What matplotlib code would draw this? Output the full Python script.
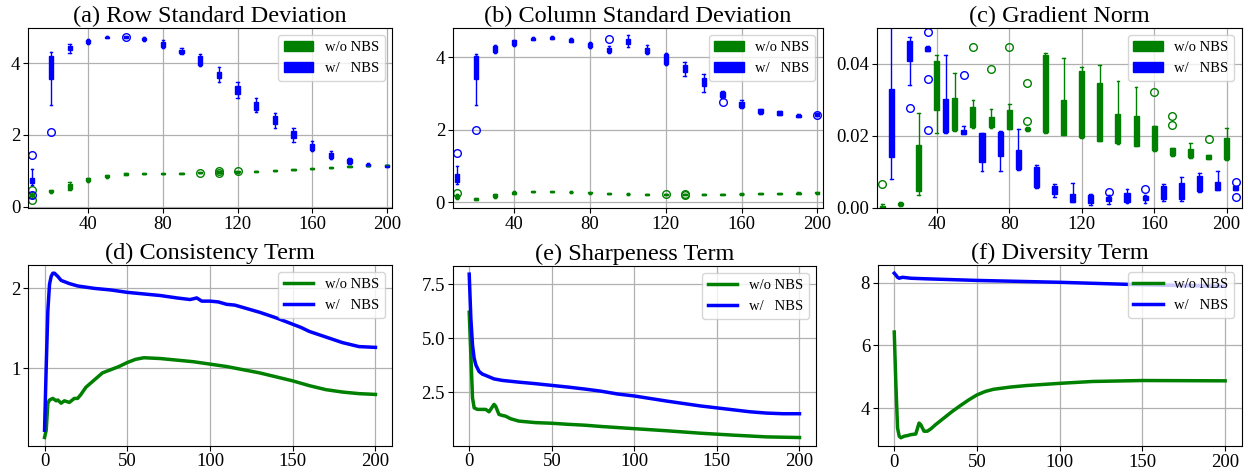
import matplotlib
matplotlib.use('Agg')
import matplotlib.pyplot as plt
from matplotlib.patches import Patch
from matplotlib.lines import Line2D

plt.rcParams['font.family'] = ['Liberation Serif', 'DejaVu Serif']

G, B = 'green', 'blue'
LABELS = ['w/o NBS', 'w/   NBS']

# ── box stats ────────────────────────────────────────────────────────────────
steps = [10, 20, 30, 40, 50, 60, 70, 80, 90, 100,
         110, 120, 130, 140, 150, 160, 170, 180, 190, 200]

# (a) row std, w/o NBS
a_g_q1  = [0.30, 0.40, 0.50, 0.71, 0.82, 0.89, 0.91, 0.91, 0.92, 0.94, 0.95, 0.96, 0.97, 0.99, 1.02, 1.05, 1.08, 1.11, 1.13, 1.14]
a_g_med = [0.32, 0.43, 0.56, 0.76, 0.85, 0.91, 0.92, 0.92, 0.93, 0.95, 0.96, 0.97, 0.98, 1.00, 1.03, 1.06, 1.09, 1.12, 1.14, 1.15]
a_g_q3  = [0.35, 0.46, 0.62, 0.80, 0.87, 0.93, 0.93, 0.94, 0.95, 0.97, 0.98, 0.98, 0.99, 1.01, 1.04, 1.07, 1.10, 1.13, 1.15, 1.16]
a_g_lo  = [0.25, 0.39, 0.47, 0.70, 0.81, 0.88, 0.90, 0.90, 0.92, 0.93, 0.94, 0.95, 0.97, 0.99, 1.02, 1.05, 1.08, 1.11, 1.13, 1.14]
a_g_hi  = [0.40, 0.47, 0.68, 0.81, 0.88, 0.94, 0.94, 0.94, 0.95, 0.97, 0.98, 0.99, 0.99, 1.01, 1.04, 1.07, 1.10, 1.13, 1.15, 1.16]
a_g_fl  = [[0.47, 0.19], [], [], [], [], [], [], [], [], [0.95], [0.93, 0.99], [0.98], [], [], [], [], [], [], [], []]
# (a) row std, w/ NBS
a_b_q1  = [0.65, 3.56, 4.38, 4.56, 4.71, 4.72, 4.66, 4.47, 4.28, 3.96, 3.58, 3.14, 2.71, 2.32, 1.93, 1.59, 1.37, 1.22, 1.13, 1.11]
a_b_med = [0.72, 3.90, 4.43, 4.60, 4.73, 4.74, 4.69, 4.53, 4.33, 4.08, 3.67, 3.26, 2.82, 2.43, 2.02, 1.68, 1.44, 1.27, 1.16, 1.13]
a_b_q3  = [0.80, 4.22, 4.49, 4.65, 4.75, 4.76, 4.72, 4.60, 4.38, 4.20, 3.77, 3.38, 2.93, 2.54, 2.11, 1.76, 1.50, 1.33, 1.20, 1.16]
a_b_lo  = [0.60, 2.83, 4.30, 4.53, 4.70, 4.71, 4.64, 4.43, 4.25, 3.94, 3.47, 3.04, 2.63, 2.19, 1.81, 1.55, 1.33, 1.20, 1.12, 1.10]
a_b_hi  = [1.05, 4.31, 4.54, 4.68, 4.76, 4.77, 4.74, 4.65, 4.42, 4.27, 3.89, 3.47, 3.03, 2.61, 2.19, 1.82, 1.55, 1.36, 1.21, 1.17]
a_b_fl  = [[1.44, 0.32], [2.09], [], [], [], [4.75], [], [], [], [], [], [], [], [], [], [], [], [], [], []]

# (b) column std, w/o NBS
b_g_q1  = [0.12, 0.07, 0.15, 0.24, 0.28, 0.28, 0.27, 0.25, 0.23, 0.22, 0.21, 0.21, 0.21, 0.21, 0.21, 0.22, 0.23, 0.23, 0.24, 0.25]
b_g_med = [0.15, 0.09, 0.18, 0.26, 0.29, 0.29, 0.28, 0.26, 0.24, 0.23, 0.22, 0.22, 0.22, 0.22, 0.22, 0.23, 0.24, 0.24, 0.25, 0.26]
b_g_q3  = [0.19, 0.11, 0.22, 0.29, 0.31, 0.30, 0.29, 0.27, 0.25, 0.24, 0.23, 0.23, 0.23, 0.23, 0.23, 0.24, 0.25, 0.25, 0.26, 0.27]
b_g_lo  = [0.08, 0.06, 0.12, 0.23, 0.27, 0.27, 0.26, 0.24, 0.22, 0.21, 0.20, 0.20, 0.20, 0.20, 0.20, 0.21, 0.22, 0.22, 0.23, 0.24]
b_g_hi  = [0.22, 0.12, 0.24, 0.30, 0.32, 0.31, 0.30, 0.28, 0.26, 0.25, 0.24, 0.24, 0.24, 0.24, 0.24, 0.25, 0.26, 0.26, 0.27, 0.28]
b_g_fl  = [[0.25], [], [], [], [], [], [], [], [], [], [], [0.22], [0.21, 0.24], [], [], [], [], [], [], []]
# (b) column std, w/ NBS
b_b_q1  = [0.57, 3.40, 4.15, 4.34, 4.49, 4.52, 4.43, 4.28, 4.14, 4.37, 4.12, 3.81, 3.59, 3.20, 2.90, 2.63, 2.45, 2.42, 2.36, 2.38]
b_b_med = [0.67, 3.70, 4.23, 4.41, 4.52, 4.55, 4.48, 4.33, 4.20, 4.45, 4.20, 3.96, 3.68, 3.32, 2.97, 2.70, 2.51, 2.46, 2.39, 2.41]
b_b_q3  = [0.77, 4.03, 4.30, 4.47, 4.54, 4.57, 4.52, 4.39, 4.26, 4.52, 4.27, 4.10, 3.79, 3.44, 3.03, 2.76, 2.56, 2.51, 2.42, 2.45]
b_b_lo  = [0.50, 2.68, 4.12, 4.32, 4.48, 4.51, 4.42, 4.25, 4.12, 4.29, 4.09, 3.79, 3.48, 3.03, 2.88, 2.61, 2.43, 2.40, 2.35, 2.37]
b_b_hi  = [0.99, 4.10, 4.33, 4.48, 4.55, 4.58, 4.53, 4.41, 4.30, 4.61, 4.33, 4.12, 3.86, 3.53, 3.08, 2.81, 2.58, 2.53, 2.43, 2.46]
b_b_fl  = [[1.37], [1.99], [], [], [], [], [], [], [4.50], [], [], [], [], [], [2.76], [], [], [], [], [2.42]]

# (c) gradient norm, w/o NBS at 10..200, w/ NBS shifted by 5
c_g_q1  = [0.0001, 0.0007, 0.0048, 0.0271, 0.0216, 0.0225, 0.0225, 0.0219, 0.0216, 0.0210,
           0.0203, 0.0196, 0.0186, 0.0180, 0.0173, 0.0160, 0.0147, 0.0142, 0.0136, 0.0135]
c_g_med = [0.0003, 0.0010, 0.0110, 0.0330, 0.0250, 0.0250, 0.0235, 0.0225, 0.0220, 0.0300,
           0.0220, 0.0280, 0.0250, 0.0220, 0.0220, 0.0190, 0.0157, 0.0155, 0.0142, 0.0160]
c_g_q3  = [0.0006, 0.0015, 0.0175, 0.0407, 0.0306, 0.0280, 0.0253, 0.0271, 0.0223, 0.0424,
           0.0300, 0.0380, 0.0348, 0.0260, 0.0256, 0.0227, 0.0166, 0.0164, 0.0147, 0.0195]
c_g_lo  = [0.0000, 0.0006, 0.0037, 0.0207, 0.0214, 0.0223, 0.0223, 0.0219, 0.0215, 0.0209,
           0.0202, 0.0195, 0.0185, 0.0178, 0.0171, 0.0157, 0.0145, 0.0140, 0.0135, 0.0134]
c_g_hi  = [0.0010, 0.0016, 0.0265, 0.0424, 0.0376, 0.0300, 0.0276, 0.0288, 0.0224, 0.0431,
           0.0417, 0.0391, 0.0396, 0.0354, 0.0336, 0.0228, 0.0168, 0.0180, 0.0148, 0.0223]
c_g_fl  = [[0.0066], [], [], [], [], [0.0448], [0.0385], [0.0448], [0.0348, 0.0242], [],
           [], [], [], [], [], [0.0323], [0.0256, 0.0230], [], [0.0192], []]
c_b_pos = [15, 25, 35, 45, 55, 65, 75, 85, 95, 105,
           115, 125, 135, 145, 155, 165, 175, 185, 195, 205]
c_b_q1  = [0.0142, 0.0409, 0.0437, 0.0210, 0.0206, 0.0129, 0.0144, 0.0107, 0.0059, 0.0039,
           0.0018, 0.0013, 0.0020, 0.0016, 0.0022, 0.0024, 0.0024, 0.0046, 0.0050, 0.0050]
c_b_med = [0.0230, 0.0430, 0.0443, 0.0220, 0.0210, 0.0180, 0.0190, 0.0120, 0.0090, 0.0050,
           0.0025, 0.0025, 0.0025, 0.0025, 0.0027, 0.0040, 0.0045, 0.0075, 0.0060, 0.0055]
c_b_q3  = [0.0330, 0.0465, 0.0448, 0.0302, 0.0217, 0.0208, 0.0212, 0.0160, 0.0114, 0.0061,
           0.0039, 0.0035, 0.0031, 0.0042, 0.0033, 0.0061, 0.0070, 0.0090, 0.0072, 0.0060]
c_b_lo  = [0.0081, 0.0341, 0.0436, 0.0209, 0.0205, 0.0103, 0.0103, 0.0106, 0.0055, 0.0031,
           0.0017, 0.0009, 0.0010, 0.0015, 0.0015, 0.0020, 0.0020, 0.0045, 0.0049, 0.0049]
c_b_hi  = [0.0600, 0.0476, 0.0449, 0.0426, 0.0228, 0.0209, 0.0213, 0.0219, 0.0120, 0.0068,
           0.0070, 0.0039, 0.0035, 0.0053, 0.0036, 0.0066, 0.0087, 0.0098, 0.0103, 0.0061]
c_b_fl  = [[], [0.0278], [0.0489, 0.0359, 0.0216], [], [0.0369], [], [], [], [], [],
           [], [], [0.0044], [], [0.0053], [], [], [], [], [0.0073, 0.0031]]

# ── training curves ───────────────────────────────────────────────────────────
d_g_x = [0, 1, 2, 3, 5, 7, 8, 10, 12, 15, 18, 20, 22, 25, 30, 35, 40, 45, 50, 55, 60,
         70, 80, 90, 100, 110, 120, 130, 140, 150, 160, 170, 180, 190, 200]
d_g_y = [0.13, 0.22, 0.56, 0.60, 0.62, 0.59, 0.60, 0.56, 0.59, 0.57, 0.62, 0.62, 0.67, 0.76, 0.85, 0.94, 0.98, 1.02, 1.07, 1.11, 1.13,
         1.12, 1.10, 1.08, 1.05, 1.02, 0.98, 0.94, 0.89, 0.84, 0.78, 0.73, 0.70, 0.68, 0.67]
d_b_x = [0, 1, 2, 3, 4, 5, 6, 8, 10, 15, 20, 30, 40, 50, 60, 70, 80, 88, 92, 95,
         100, 105, 110, 115, 120, 130, 140, 150, 155, 160, 170, 180, 190, 200]
d_b_y = [0.22, 1.01, 1.72, 2.05, 2.15, 2.19, 2.19, 2.15, 2.10, 2.06, 2.03, 2.00, 1.98, 1.95, 1.93, 1.91, 1.88, 1.86, 1.88, 1.84,
         1.84, 1.83, 1.80, 1.79, 1.76, 1.70, 1.63, 1.55, 1.51, 1.46, 1.39, 1.32, 1.27, 1.26]

e_g_x = [0, 1, 2, 3, 5, 10, 12, 13, 15, 16, 18, 20, 22, 25, 30, 40, 50, 60, 70, 80, 90,
         100, 120, 140, 160, 180, 200]
e_g_y = [6.20, 4.22, 2.24, 1.78, 1.71, 1.71, 1.60, 1.71, 1.94, 1.86, 1.48, 1.43, 1.40, 1.28, 1.17, 1.10, 1.07, 1.02, 0.98, 0.92, 0.87,
         0.82, 0.72, 0.61, 0.52, 0.44, 0.41]
e_b_x = [0, 1, 2, 3, 4, 5, 6, 8, 10, 15, 20, 30, 40, 50, 60, 70, 80, 90, 100,
         110, 120, 130, 140, 150, 160, 170, 180, 190, 200]
e_b_y = [7.96, 5.90, 4.68, 4.07, 3.77, 3.61, 3.46, 3.34, 3.28, 3.12, 3.05, 2.97, 2.90, 2.82, 2.74, 2.65, 2.55, 2.42, 2.33,
         2.21, 2.09, 1.98, 1.87, 1.78, 1.69, 1.60, 1.54, 1.51, 1.51]

f_g_x = [0, 1, 2, 3, 4, 6, 8, 10, 13, 15, 16, 18, 20, 22, 25, 30, 35, 40, 45, 50, 55, 60,
         70, 80, 100, 120, 150, 200]
f_g_y = [6.43, 4.74, 3.36, 3.10, 3.05, 3.10, 3.12, 3.15, 3.17, 3.52, 3.47, 3.26, 3.26, 3.33, 3.47, 3.68, 3.89, 4.08, 4.26, 4.42, 4.53, 4.60,
         4.67, 4.72, 4.79, 4.85, 4.88, 4.87]
f_b_x = [0, 1, 2, 3, 5, 10, 20, 50, 100, 150, 200]
f_b_y = [8.31, 8.25, 8.18, 8.15, 8.18, 8.15, 8.13, 8.08, 8.02, 7.94, 7.89]

W, H = 1248, 472
fig = plt.figure(figsize=(W / 100, H / 100), dpi=100)
fig.patch.set_facecolor('white')

def px_axes(l, t, r, b):
    return fig.add_axes([l / W, 1 - b / H, (r - l) / W, (b - t) / H])

def boxes(ax, pos, q1, med, q3, lo, hi, fl, color, width):
    stats = [dict(q1=a, med=m, q3=c, whislo=w0, whishi=w1, fliers=f)
             for a, m, c, w0, w1, f in zip(q1, med, q3, lo, hi, fl)]
    ax.bxp(stats, positions=pos, widths=width, capwidths=width * 0.55,
           patch_artist=True, manage_ticks=False,
           boxprops=dict(facecolor=color, edgecolor=color, lw=1),
           medianprops=dict(color=color, lw=1),
           whiskerprops=dict(color=color, lw=1),
           capprops=dict(color=color, lw=1),
           flierprops=dict(marker='o', markerfacecolor='none',
                           markeredgecolor=color, markersize=5.5, mew=1))

def style(ax, title):
    ax.set_title(title, fontsize=17.5, pad=4)
    ax.grid(True, color='#b0b0b0', lw=0.9)
    ax.set_axisbelow(True)
    ax.tick_params(labelsize=13.5, length=3.5, pad=2)

box_handles = [Patch(fc=G, ec=G, label=LABELS[0]), Patch(fc=B, ec=B, label=LABELS[1])]
line_handles = [Line2D([0], [0], color=G, lw=2.5, label=LABELS[0]),
                Line2D([0], [0], color=B, lw=2.5, label=LABELS[1])]
leg_kw = dict(loc='upper right', fontsize=10.5)

# (a)
ax = px_axes(28, 28, 392, 208)
boxes(ax, steps, a_g_q1, a_g_med, a_g_q3, a_g_lo, a_g_hi, a_g_fl, G, 2.2)
boxes(ax, steps, a_b_q1, a_b_med, a_b_q3, a_b_lo, a_b_hi, a_b_fl, B, 2.2)
ax.set_xlim(7.7, 202.8); ax.set_ylim(-0.04, 4.99)
ax.set_xticks([40, 80, 120, 160, 200]); ax.set_yticks([0, 2, 4])
style(ax, '(a) Row Standard Deviation')
ax.legend(handles=box_handles, **leg_kw)

# (b)
ax = px_axes(452.7, 28, 822.7, 208)
boxes(ax, steps, b_g_q1, b_g_med, b_g_q3, b_g_lo, b_g_hi, b_g_fl, G, 2.2)
boxes(ax, steps, b_b_q1, b_b_med, b_b_q3, b_b_lo, b_b_hi, b_b_fl, B, 2.2)
ax.set_xlim(7.7, 202.8); ax.set_ylim(-0.16, 4.81)
ax.set_xticks([40, 80, 120, 160, 200]); ax.set_yticks([0, 2, 4])
style(ax, '(b) Column Standard Deviation')
ax.legend(handles=box_handles, **leg_kw)

# (c)
ax = px_axes(876.7, 28, 1241.7, 208)
boxes(ax, steps, c_g_q1, c_g_med, c_g_q3, c_g_lo, c_g_hi, c_g_fl, G, 2.8)
boxes(ax, c_b_pos, c_b_q1, c_b_med, c_b_q3, c_b_lo, c_b_hi, c_b_fl, B, 2.8)
ax.set_xlim(6.9, 208.3); ax.set_ylim(0, 0.05)
ax.set_xticks([40, 80, 120, 160, 200]); ax.set_yticks([0, 0.02, 0.04])
ax.yaxis.set_major_formatter(matplotlib.ticker.FormatStrFormatter('%.2f'))
style(ax, '(c) Gradient Norm')
ax.legend(handles=box_handles, **leg_kw)

# (d)–(f)
curves = [
    ((28, 265, 392, 445.7), '(d) Consistency Term', d_g_x, d_g_y, d_b_x, d_b_y, [1, 2]),
    ((452.7, 266, 816, 445.7), '(e) Sharpeness Term', e_g_x, e_g_y, e_b_x, e_b_y, [2.5, 5.0, 7.5]),
    ((877.7, 265, 1241.7, 446), '(f) Diversity Term', f_g_x, f_g_y, f_b_x, f_b_y, [4, 6, 8]),
]
for box, title, gx, gy, bx, by, yt in curves:
    ax = px_axes(*box)
    ax.plot(gx, gy, color=G, lw=2.5)
    ax.plot(bx, by, color=B, lw=2.5)
    ax.set_xticks([0, 50, 100, 150, 200]); ax.set_yticks(yt)
    style(ax, title)
    ax.legend(handles=line_handles, **leg_kw)

fig.savefig('out.png', dpi=100, facecolor='white')
